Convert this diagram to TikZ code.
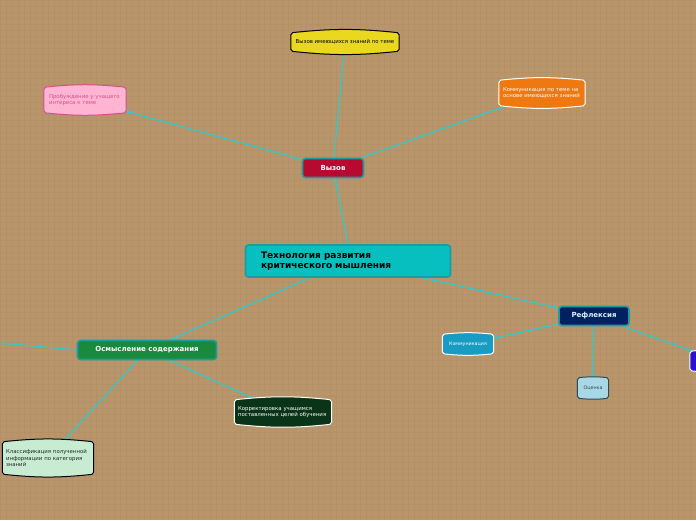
\documentclass[tikz,border=0pt]{standalone}
\usepackage{fontspec}
\setmainfont{DejaVu Sans}
\usetikzlibrary{arrows.meta}
\definecolor{bg}{HTML}{B8956B}
\definecolor{bgline}{HTML}{AC895F}
\definecolor{edgec}{HTML}{38C6C6}
\definecolor{tealb}{HTML}{1A9CA0}
\definecolor{centerf}{HTML}{08BFBF}
\definecolor{vyzovf}{HTML}{B80A30}
\definecolor{osmf}{HTML}{198A3C}
\definecolor{reff}{HTML}{012060}
\definecolor{yellowf}{HTML}{EAD81E}
\definecolor{pinkf}{HTML}{FFB4D2}
\definecolor{pinkd}{HTML}{D8508A}
\definecolor{orangef}{HTML}{F07810}
\definecolor{kommf}{HTML}{189CC2}
\definecolor{ocenf}{HTML}{A8D8E6}
\definecolor{ocend}{HTML}{2E4A58}
\definecolor{bluef}{HTML}{2A10D0}
\definecolor{dgreenf}{HTML}{0A3418}
\definecolor{lgreenf}{HTML}{C8ECD2}
\pgfdeclarelayer{bglayer}
\pgfdeclarelayer{edges}
\pgfdeclarelayer{shapes}
\pgfsetlayers{bglayer,edges,shapes,main}
\newcommand\barrel[4]{%
  \begin{pgfonlayer}{shapes}
  \draw[draw=#2, fill=#3, line width=#4, rounded corners=2pt] (#1.south west) -- (#1.north west) to[bend left=6] (#1.north east) -- (#1.south east) to[bend left=6] (#1.south west) -- cycle;
  \end{pgfonlayer}}
\tikzset{
  main/.style={draw=tealb, line width=1.6pt, rounded corners=3pt, font=\bfseries\fontsize{7}{8}\selectfont, inner sep=0pt},
  small/.style={inner sep=0pt, font=\fontsize{5.4}{6.4}\selectfont, align=left},
  conn/.style={draw=edgec, line width=1.3pt, -{Stealth[length=4.5pt,width=4pt]}},
}
\begin{document}
\begin{tikzpicture}[x=1pt,y=-1pt]
\useasboundingbox (0,0) rectangle (696,520);
\clip (0,0) rectangle (696,520);
\begin{pgfonlayer}{bglayer}
\fill[bg] (0,0) rectangle (696,520);
\foreach \i in {0,6,...,696} \draw[bgline, line width=0.3pt, opacity=0.25] (\i,0) -- (\i,520);
\foreach \j in {0,6,...,520} \draw[bgline, line width=0.3pt, opacity=0.25] (0,\j) -- (696,\j);
\end{pgfonlayer}

% main nodes
\node[main, fill=centerf, minimum width=205pt, minimum height=32pt, text width=190pt, align=left, font=\bfseries\fontsize{9}{10.5}\selectfont, text=black] (c) at (348,261) {\hspace*{8pt}Технология развития\\\hspace*{8pt}критического мышления};
\node[main, fill=vyzovf, minimum width=61pt, minimum height=19pt, text=white] (vy) at (333,168) {Вызов};
\node[main, fill=osmf, minimum width=139pt, minimum height=19pt, text=white] (os) at (147,350) {Осмысление содержания};
\node[main, fill=reff, minimum width=70pt, minimum height=19pt, text=white!85!cyan] (re) at (594,316) {Рефлексия};

% barrel nodes
\node[small, minimum width=108pt, minimum height=18pt, align=center, text=black] (ye) at (345,42) {Вызов имеющихся знаний по теме};
\barrel{ye}{black}{yellowf}{1pt}
\node[small, minimum width=82pt, minimum height=25pt, text width=72pt, text=pinkd] (pk) at (85,100) {Пробуждение у учащего\\интереса к теме};
\barrel{pk}{pinkd}{pinkf}{1pt}
\node[small, minimum width=86pt, minimum height=25pt, text width=78pt, text=white] (or) at (542,93) {Коммуникация по теме на\\основе имеющихся знаний};
\barrel{or}{white}{orangef}{1pt}
\node[small, minimum width=51pt, minimum height=19pt, align=center, text=white, font=\fontsize{4.8}{5.5}\selectfont] (ko) at (468,344) {Коммуникация};
\barrel{ko}{white}{kommf}{1pt}
\node[small, minimum width=31pt, minimum height=20pt, align=center, text=ocend, font=\fontsize{4.8}{5.5}\selectfont] (oc) at (593,388) {Оценка};
\barrel{oc}{ocend}{ocenf}{1pt}
\node[small, minimum width=60pt, minimum height=19pt] (bl) at (720,361) {};
\barrel{bl}{white}{bluef}{1pt}
\node[small, minimum width=97pt, minimum height=24pt, text width=90pt, text=white] (dg) at (283,412) {Корректировка учащимся\\поставленных целей обучения};
\barrel{dg}{white}{dgreenf}{1pt}
\node[small, minimum width=91pt, minimum height=32pt, text width=84pt, text=black!85] (lg) at (48,458) {Классификация полученной\\информации по категория\\знаний};
\barrel{lg}{black}{lgreenf}{1pt}
\coordinate (L) at (1,343);

% connectors
\begin{pgfonlayer}{edges}
\draw[conn] (c.north) -- (vy);
\draw[conn] (vy) -- (ye);
\draw[conn] (vy) -- (pk);
\draw[conn] (vy) -- (or);
\draw[conn] (c) -- (os);
\draw[conn] (c) -- (re);
\draw[conn] (os.west) -- (L);
\draw[conn] (os) -- (dg);
\draw[conn] (os) -- (lg);
\draw[conn] (re) -- (ko);
\draw[conn] (re) -- (oc);
\draw[conn] (re) -- (bl);
\end{pgfonlayer}
\end{tikzpicture}
\end{document}
